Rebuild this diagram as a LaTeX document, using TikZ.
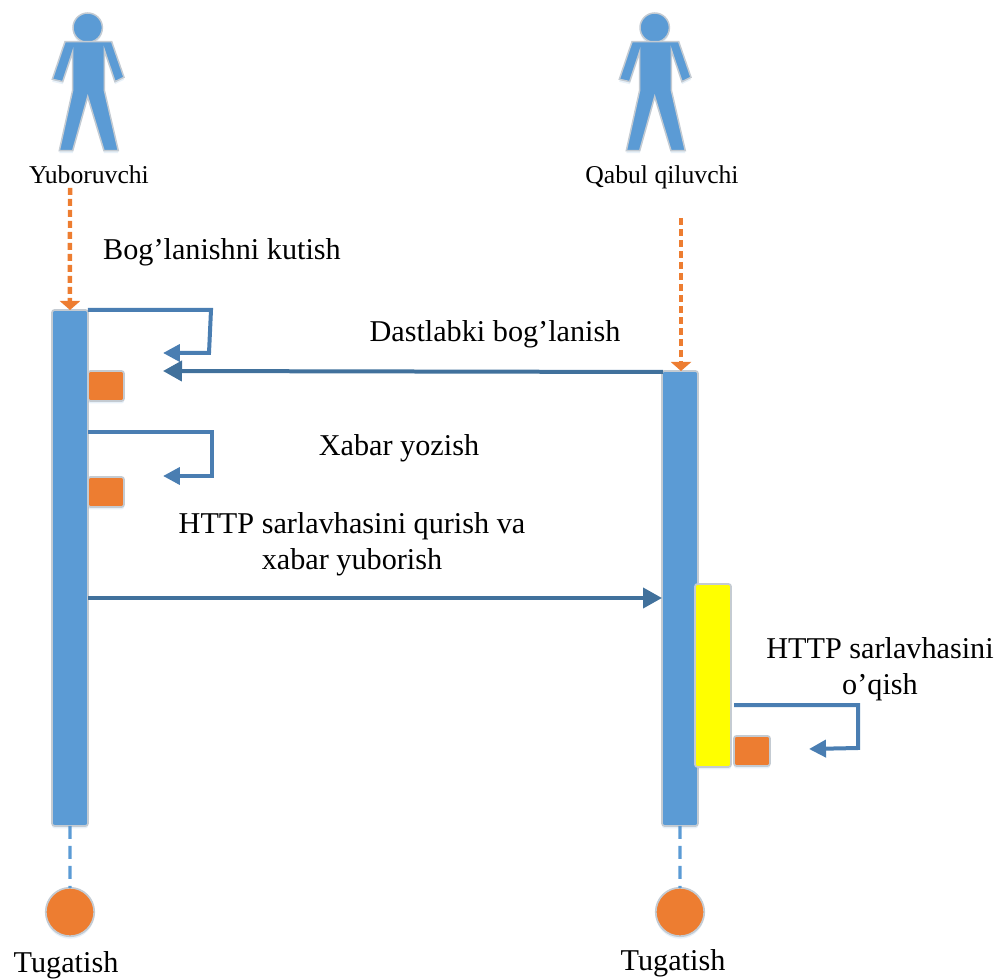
\documentclass[tikz,border=0pt]{standalone}
\usepackage{fontspec}
\setmainfont{Liberation Serif}
\usetikzlibrary{arrows.meta,positioning,shadows,shapes.geometric}
\definecolor{barblue}{HTML}{5B9BD5}
\definecolor{boxorange}{HTML}{ED7D31}
\definecolor{boxyellow}{HTML}{FFFF00}
\definecolor{loopblue}{HTML}{4A7EB2}
\definecolor{linkblue}{HTML}{41719C}
\definecolor{edgegray}{HTML}{C4CBD2}
\tikzset{
soft/.style={drop shadow={shadow xshift=0cm, shadow yshift=-.05cm, opacity=.14, fill=barblue}},
bar/.style={
  rectangle,
  draw=edgegray,
  fill=barblue,
  soft,
  line width=.035cm,
  rounded corners=.05cm,
  inner sep=0pt,
  outer sep=0pt,
  minimum width=.72cm,
  anchor=north west},
mark box/.style={
  bar,
  fill=boxorange,
  minimum height=.6cm},
endpoint/.style={
  circle,
  draw=edgegray,
  fill=boxorange,
  soft,
  line width=.035cm,
  inner sep=0pt,
  outer sep=0pt,
  minimum size=.97cm},
label/.style={font=\fontsize{17.2}{20.4}\selectfont, align=center, inner sep=0pt},
small label/.style={font=\fontsize{14.6}{16}\selectfont, inner sep=0pt},
line/.style={draw=loopblue, line width=.08cm, -{Triangle[length=.34cm,width=.34cm]}},
link/.style={line, draw=linkblue, line width=.08cm, -{Triangle[length=.38cm,width=.4cm]}},
wait/.style={draw=boxorange, line width=.09cm, dash pattern=on .14cm off .08cm, -{Triangle[length=.18cm,width=.4cm]}},
finish/.style={draw=barblue, line width=.065cm, dash pattern=on .26cm off .14cm},
pics/person/.style={code={
  \fill [barblue, draw=edgegray, line width=.03cm, soft] (87.7,27.7) circle (14.7);
  \fill [barblue, draw=edgegray, line width=.03cm, soft] (65,41.7) -- (111.7,41.7) -- (124,77.3) -- (115,81.7)
    -- (104.3,50) -- (104.3,90) -- (118.3,150.7) -- (104,150.7) -- (87.7,96.7) -- (72.7,150.7)
    -- (59.3,150.7) -- (72.7,90) -- (72.7,51.7) -- (62.7,81.7) -- (52.3,79.3) -- cycle;
}}
}
\begin{document}
\begin{tikzpicture}[x=.02cm,y=-.02cm]
    \useasboundingbox (0,0) rectangle (994,979);
    \pic at (0,0) {person};
    \pic at (567,0) {person};
    \node [small label] (sender) at (89,175) {Yuboruvchi};
    \node [small label] (receiver) at (662,177) {Qabul qiluvchi};
    \node [bar, minimum height=10.32cm] (bar1) at (52,310) {};
    \node [bar, minimum height=9.1cm] (bar2) at (662,371) {};
    \node [bar, fill=boxyellow, minimum height=3.66cm] (active) at (695,584) {};
    \node [mark box] (mark1) at (88,371) {};
    \node [mark box] (mark2) at (88,477) {};
    \node [mark box, right=.06cm of active.south east, anchor=south west, yshift=.02cm] (mark3) {};
    \node [endpoint] (end1) at (70,912) {};
    \node [endpoint] (end2) at (680,912) {};
    \node [label] at (222,252) {Bog’lanishni kutish};
    \node [label] at (495,334) {Dastlabki bog’lanish};
    \node [label] at (399,448) {Xabar yozish};
    \node [label] at (352,544) {HTTP sarlavhasini qurish va\\xabar yuborish};
    \node [label] at (880,669) {HTTP sarlavhasini\\o’qish};
    \node [label] at (66,965) {Tugatish};
    \node [label] at (673,963) {Tugatish};
    \coordinate (start1) at (70,188);
    \coordinate (start2) at (681,218);
    \coordinate (target1) at (163,353);
    \coordinate (target2) at (163,476);
    \coordinate (target3) at (809,749);
    \coordinate (target4) at (163,371);
    \coordinate (loop2) at (88,432);
    \coordinate (loop3) at (734,705);
    \coordinate (send1) at (88,598);
    \coordinate (send2) at (662,598);
    \coordinate (reply) at (663,372);
    \path [wait] (start1) -- (bar1.north);
    \path [wait] (start2) -- (start2 |- bar2.north);
    \path [line] (bar1.north east) -- (211,310) -- (209,353) -- (target1);
    \path [line] (loop2) -- (212,432) -- (212,476) -- (target2);
    \path [line] (loop3) -- (858,705) -- (858,748) -- (target3);
    \path [link] (reply) -- (target4);
    \path [link] (send1) -- (send2);
    \path [finish] (bar1.south) -- (end1.north);
    \path [finish] (bar2.south) -- (end2.north);
\end{tikzpicture}
\end{document}
